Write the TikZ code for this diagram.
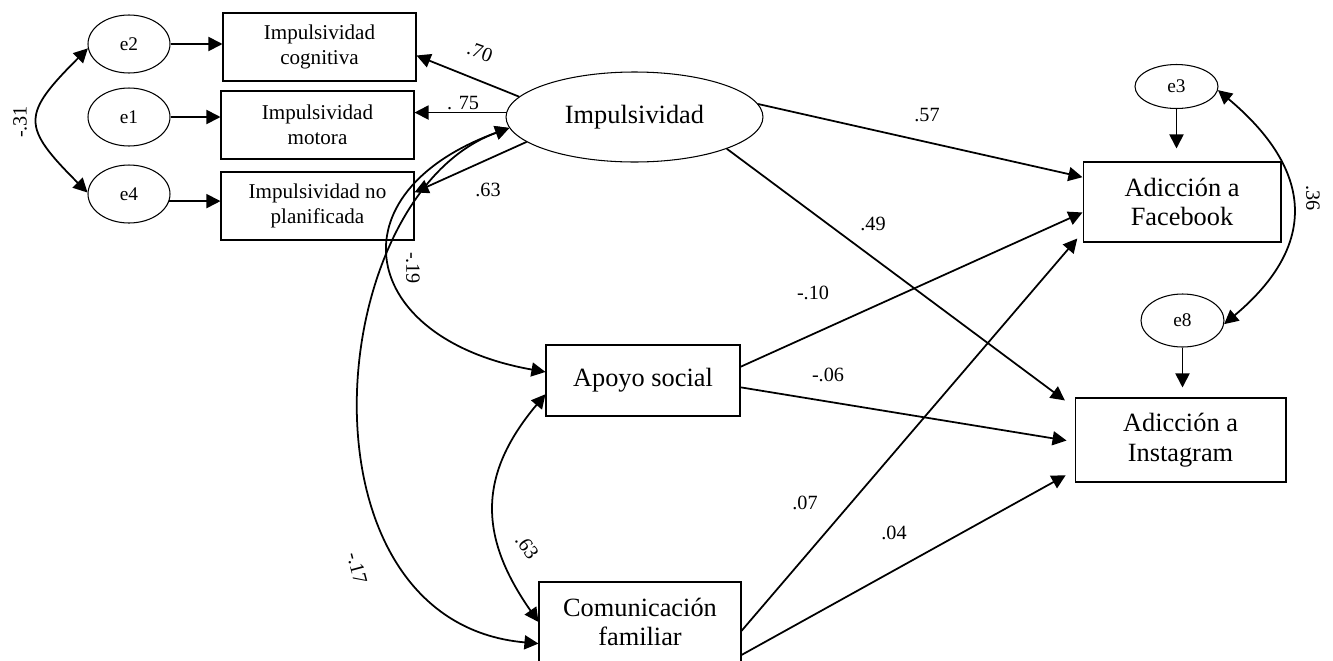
\documentclass[tikz,border=0pt]{standalone}
\usepackage{fontspec}
\setmainfont{Liberation Serif}
\usetikzlibrary{arrows.meta,shapes.geometric}
\tikzset{
  obs/.style={draw, rectangle, line width=0.6pt, align=center, inner sep=0pt, minimum width=3.86cm, minimum height=1.36cm, font=\fontsize{12}{14}\selectfont},
  var/.style={draw, rectangle, line width=0.6pt, align=center, inner sep=0pt, font=\fontsize{15}{17}\selectfont},
  err/.style={draw, ellipse, line width=0.6pt, inner sep=0pt, minimum width=1.64cm, minimum height=1.16cm, font=\fontsize{11}{13}\selectfont},
  reg/.style={-{Triangle[length=8pt,width=8pt]}, line width=1pt},
  cov/.style={{Triangle[length=8pt,width=8pt]}-{Triangle[length=8pt,width=8pt]}, line width=1pt},
  coef/.style={inner sep=0pt, font=\fontsize{11.5}{13}\selectfont},
}

\begin{document}
\begin{tikzpicture}[x=0.02cm, y=-0.02cm]
    \useasboundingbox (0,0) rectangle (1333,660);
    % errores y medidas de impulsividad
    \node[err] (e2) at (129,44) {e2};
    \node[err] (e1) at (129,117) {e1};
    \node[err] (e4) at (129,194) {e4};
    \node[obs] (cog) at (319.5,47) {Impulsividad\\cognitiva};
    \node[obs] (mot) at (317.5,125) {Impulsividad\\motora};
    \node[obs] (npl) at (317.5,206) {Impulsividad no\\planificada};
    \node[draw, ellipse, line width=0.6pt, inner sep=0pt, minimum width=5.14cm, minimum height=1.8cm, font=\fontsize{15}{17}\selectfont] (imp) at (634.5,117) {Impulsividad};
    % variables del modelo
    \node[var, minimum width=3.88cm, minimum height=1.42cm] (ap) at (643,380.5) {Apoyo social};
    \node[var, minimum width=4.04cm, minimum height=1.6cm] (cm) at (640,622) {Comunicación\\familiar};
    \node[var, minimum width=3.96cm, minimum height=1.6cm] (fb) at (1182,202) {Adicción a\\Facebook};
    \node[var, minimum width=4.22cm, minimum height=1.68cm] (ig) at (1180.5,440) {Adicción a\\Instagram};
    \node[err, minimum width=1.66cm, minimum height=0.88cm] (e3) at (1176.5,86.5) {e3};
    \node[err, minimum width=1.66cm, minimum height=1.06cm] (e8) at (1182.5,320.5) {e8};

    \draw[reg] (e2.east) -- (e2.east -| cog.west);
    \draw[reg] (e1.east) -- (e1.east -| mot.west);
    \draw[reg] (e4.-10) -- (e4.-10 -| npl.west);
    \draw[reg] (imp.170) -- (cog.-5);
    \draw[reg] (imp.178) -- (imp.178 -| mot.east);
    \draw[reg] (imp.193) -- (npl.8);
    \draw[reg] (imp.6) -- (fb.166);
    \draw[reg, shorten >=0.24cm] (imp.-19) -- (ig.163);
    \draw[reg] (ap.8) -- (fb.186);
    \draw[reg, shorten >=0.16cm] (ap.-4) -- (ig.181);
    \draw[reg, shorten >=0.16cm] (cm.-5) -- (fb.197);
    \draw[reg, shorten >=0.2cm] (cm.-18) -- (ig.196);
    \draw[reg, shorten >=0.26cm] (e3.south) -- (e3.south |- fb.north);
    \draw[reg, shorten >=0.2cm] (e8.south) -- (e8.south |- ig.north);

    % covarianzas
    \draw[cov] (e2.186) .. controls +(225:1.88cm) and +(135:1.88cm) .. (e4.178);
    \draw[cov] (e3.-5) .. controls +(-40:2.48cm) and +(40:2.48cm) .. (e8.-5);
    \draw[cov] (ap.188) .. controls +(230:2.1cm) and +(125:2.1cm) .. (cm.180);
    \draw[cov] (imp.185) .. controls +(200:3.8cm) and +(170:3.8cm) .. (ap.175);
    \draw[cov] (imp.185) .. controls +(200:4cm) and +(175:5cm) .. (cm.192);

    \node[coef, rotate=-20] (l70) at (480,52) {.70};
    \node[coef] (l75) at (463,103) {. 75};
    \node[coef] (l63a) at (488,190) {.63};
    \node[coef] (l57) at (927,115) {.57};
    \node[coef] (l49) at (873,224) {.49};
    \node[coef] (l10) at (813,293) {-.10};
    \node[coef] (l06) at (828,375) {-.06};
    \node[coef] (l07) at (805,503) {.07};
    \node[coef] (l04) at (894,533) {.04};
    \node[coef, rotate=-90] (l19) at (413,268) {-.19};
    \node[coef, rotate=-75] (l17) at (357,568) {-.17};
    \node[coef, rotate=-55] (l63b) at (527,547) {.63};
    \node[coef, rotate=-90] (l36) at (1313,198) {.36};
    \node[coef, rotate=90] (l31) at (20,122) {-.31};
\end{tikzpicture}
\end{document}
